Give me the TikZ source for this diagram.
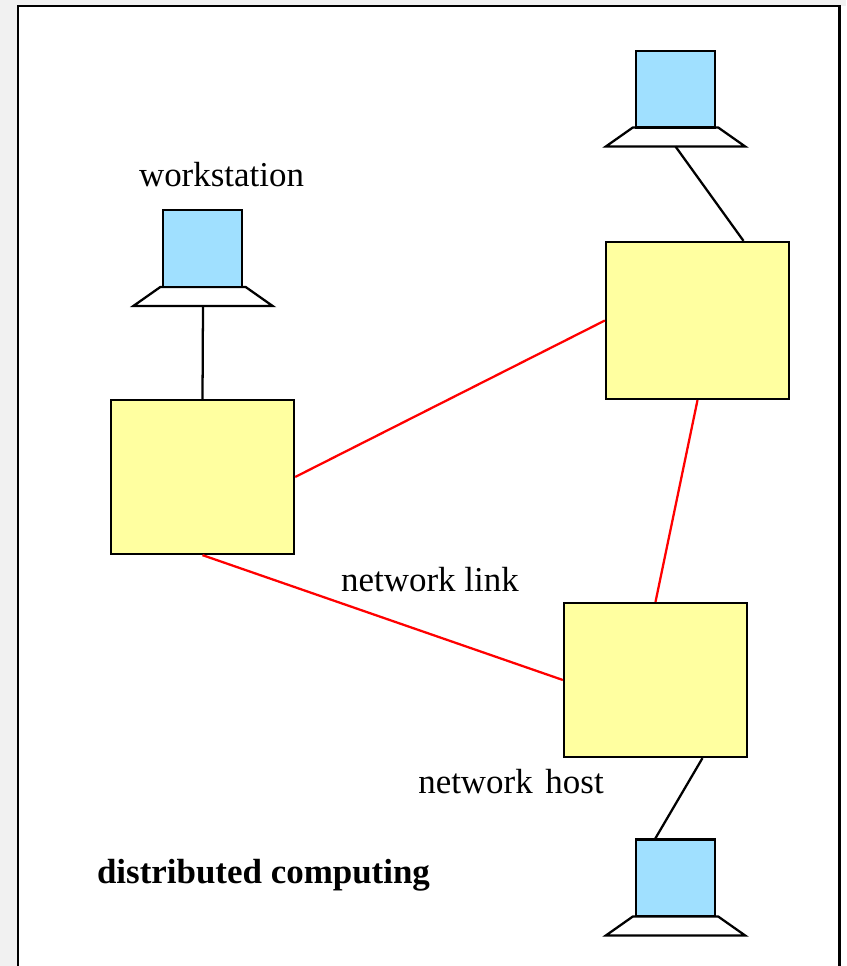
\documentclass[tikz,border=0pt]{standalone}
\usepackage{fontspec}
\setmainfont{Liberation Serif}
\definecolor{hostyellow}{RGB}{255,255,160}
\definecolor{screenblue}{RGB}{160,224,255}
\definecolor{pagegrey}{RGB}{241,241,241}
\tikzset{
  hostbox/.style={draw,line width=1.7pt,fill=hostyellow,minimum width=137.25pt,inner sep=0pt},
  screenbox/.style={draw,line width=1.7pt,fill=screenblue,minimum width=59.25pt,minimum height=57.5pt,inner sep=0pt},
  basebox/.style={minimum width=104.5pt,minimum height=14.25pt,inner sep=0pt,outer sep=0pt},
  baseline/.style={line width=1.7pt,fill=white},
  hostlink/.style={line width=1.7pt,red},
  wirelink/.style={line width=1.7pt,black},
  plainlabel/.style={inner sep=0pt,font=\fontsize{26.2}{30}\selectfont}
}
\newcommand{\baseoutline}[1]{\draw [baseline] (#1.south west) -- (#1.south east) -- ([xshift=-20.25pt]#1.north east) -- ([xshift=20.25pt]#1.north west) -- cycle;}
\begin{document}
\begin{tikzpicture}[x=0.75pt,y=0.75pt,yscale=-1,xscale=1]
    \useasboundingbox (0,0) rectangle (846,966);
    %Page and frame
    \fill [pagegrey] (0,0) rectangle (846,966);
    \fill [white] (18,6) rectangle (846,966);
    \draw [line width=1.9pt] (18,966) -- (18,6) -- (839.5,6) -- (839.5,966);

    %Hosts
    \node [hostbox,minimum height=115.5pt] (hostleft) at (202.5,477) {};
    \node [hostbox,minimum height=117.75pt] (hosttop) at (697.5,320.5) {};
    \node [hostbox,minimum height=115.5pt] (hostbottom) at (655.5,680) {};

    %Workstations
    \node [basebox] (baseleft) at (203,296.5) {};
    \baseoutline{baseleft}
    \node [screenbox] (screenleft) at (202.5,248.5) {};
    \node [basebox] (basetop) at (675.5,137) {};
    \baseoutline{basetop}
    \node [screenbox] (screentop) at (675.5,89.3) {};
    \node [basebox] (basebottom) at (675.5,926) {};
    \baseoutline{basebottom}
    \node [screenbox] (screenbottom) at (675.5,877.8) {};

    %Network links
    \draw [hostlink] (hostleft.east) -- (hosttop.west);
    \draw [hostlink] (hosttop.south) -- (hostbottom.north);
    \draw [hostlink] (hostleft.south) -- (hostbottom.west);

    %Workstation wires
    \draw [wirelink] (baseleft.south) -- (hostleft.north);
    \draw [wirelink] (basetop.south) -- (hosttop.60);
    \draw [wirelink] (hostbottom.-59.6) -- (screenbottom.117.8);

    % Text Node
    \node [plainlabel] (labelworkstation) at (221.5,175) {workstation};
    % Text Node
    \node [plainlabel] (labellink) at (430,580) {network link};
    % Text Node
    \node [plainlabel] (labelhost) at (511,782) {network\hspace{3pt} host};
    % Text Node
    \node [plainlabel,font=\fontsize{26.2}{30}\selectfont\bfseries] (labeltitle) at (263.5,875) {distributed computing};
\end{tikzpicture}
\end{document}
